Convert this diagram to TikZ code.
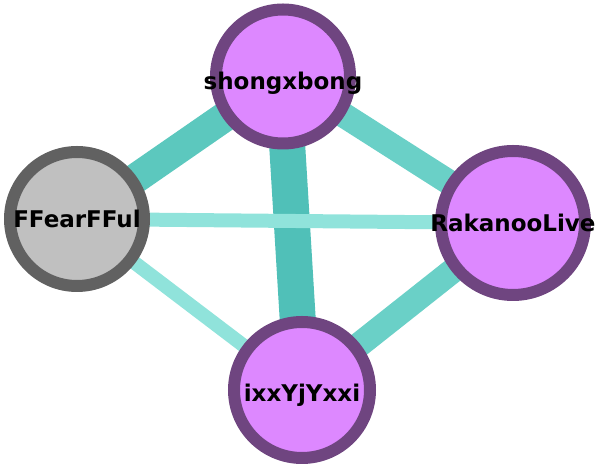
\documentclass[tikz,border=0pt]{standalone}
\usepackage{fontspec}
\setmainfont{DejaVu Sans}
\usetikzlibrary{backgrounds}
\definecolor{pfill}{HTML}{DD88FF}
\definecolor{pborder}{HTML}{6F4580}
\definecolor{gfill}{HTML}{C0C0C0}
\definecolor{gborder}{HTML}{616161}
\definecolor{eA}{HTML}{50C0B8}
\definecolor{eB}{HTML}{5CC8BE}
\definecolor{eC}{HTML}{6AD0C7}
\definecolor{eD}{HTML}{90E3DB}
\tikzset{
  x=1pt,y=1pt,
  vnode/.style={circle,inner sep=0pt,line width=12pt,text height=0pt,text depth=0pt,font=\bfseries\fontsize{23}{23}\selectfont},
  purp/.style={vnode,draw=pborder,fill=pfill},
  gray/.style={vnode,draw=gborder,fill=gfill},
  edge/.style={line cap=butt}
}
\newcommand{\lbl}[2]{\makebox[0pt]{\raisebox{-#1pt}{#2}}}
\begin{document}
\begin{tikzpicture}
\useasboundingbox (0,0) rectangle (598,468);
\node[purp,minimum size=134pt] (s) at (283,391.5) {\lbl{13.5}{shongxbong}};
\node[gray,minimum size=134pt] (f) at (77,249) {\lbl{9}{FFearFFul}};
\node[purp,minimum size=144pt] (r) at (513,245) {\lbl{9}{RakanooLive}};
\node[purp,minimum size=136pt] (i) at (302,78) {\lbl{12}{ixxYjYxxi}};
\begin{scope}[on background layer]
\draw[edge,eA,line width=36pt] (s.center) -- (i.center);
\draw[edge,eB,line width=30pt] (s.center) -- (f.center);
\draw[edge,eC,line width=25pt] (s.center) -- (r.center);
\draw[edge,eC,line width=25pt] (r.center) -- (i.center);
\draw[edge,eD,line width=14pt] (f.center) -- (r.center);
\draw[edge,eD,line width=14pt] (f.center) -- (i.center);
\end{scope}
\end{tikzpicture}
\end{document}
